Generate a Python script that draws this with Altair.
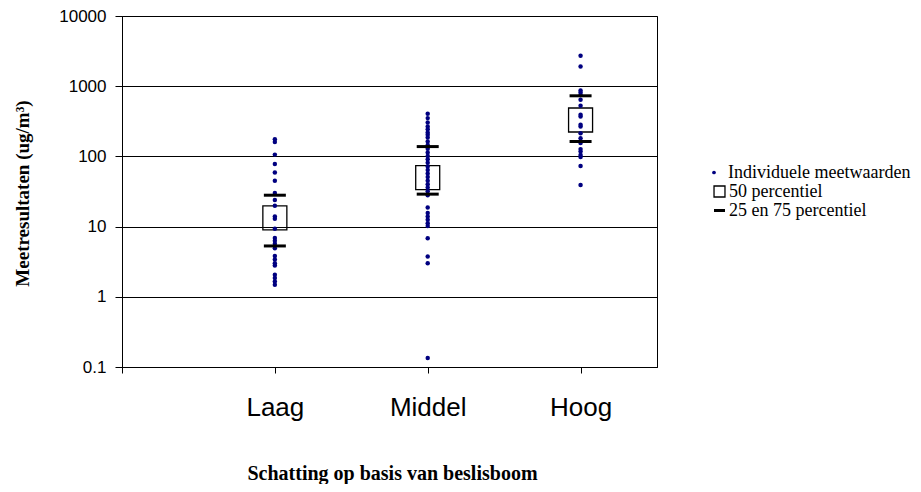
import altair as alt
import pandas as pd

# ---- data ----
categories = ["Laag", "Middel", "Hoog"]
cat_pos = [1, 2, 3]

laag_values = [175, 160, 106, 78, 59, 45, 30, 24, 19.8, 13.9, 12.9, 9.3, 6.9, 6.3,
               5.7, 4.9, 3.8, 3.4, 3.0, 2.8, 2.06, 1.85, 1.65, 1.48]
middel_values = [404, 351, 304, 267, 243, 219, 203, 186, 163, 145, 128, 114, 101, 91,
                 81, 72, 64, 57, 51, 45, 40, 36, 32, 28, 18.7, 15.6, 13.9, 12.5,
                 11.2, 10.2, 6.8, 3.75, 3.0, 0.134]
hoog_values = [2710, 1910, 868, 812, 750, 640, 526, 391, 370, 282, 267, 214, 182,
               155, 127, 117, 105, 98, 73, 39]

p50 = [13.3, 50, 330]
p25 = [5.3, 29, 163]
p75 = [28, 138, 730]

legend_labels = ["Individuele meetwaarden", "50 percentiel", "25 en 75 percentiel"]
y_ticks = [0.1, 1, 10, 100, 1000, 10000]

SERIF = "Liberation Serif"
SANS = "Liberation Sans"

# ---- tables ----
rows = []
for pos, vals in zip(cat_pos, [laag_values, middel_values, hoog_values]):
    for v in vals:
        rows.append({"x": pos, "y": v, "dots": legend_labels[0]})
points_df = pd.DataFrame(rows)

box_df = pd.DataFrame({"x": cat_pos, "y": p50, "stats": legend_labels[1]})
tick_df = pd.DataFrame({"x": cat_pos + cat_pos, "y": p25 + p75,
                        "stats": legend_labels[2]})

# category names as axis labels (non-breaking spaces nudge them like the reference)
label_expr = ("datum.value == 1 ? 'Laag\u00a0\u00a0' : datum.value == 2 ? 'Middel' : "
              "datum.value == 3 ? '\u00a0\u00a0Hoog' : ''")

x_enc = alt.X(
    "x:Q",
    scale=alt.Scale(domain=[0, 3.5], nice=False, zero=False),
    axis=alt.Axis(
        values=[0, 1, 2, 3], labelExpr=label_expr, grid=False,
        tickSize=6, tickColor="black", domainColor="black",
        labelFont=SANS, labelFontSize=26, labelColor="black",
        labelPadding=21, labelFlush=False,
        title="Schatting op basis van beslisboom",
        titleFont=SERIF, titleFontSize=20, titleFontWeight="bold",
        titleColor="black", titleX=270, titleY=112, titleBaseline="alphabetic",
        titleAnchor="middle",
    ),
)
y_enc = alt.Y(
    "y:Q",
    scale=alt.Scale(type="log", domain=[0.1, 10000], nice=False),
    axis=alt.Axis(
        values=y_ticks, format="~g", grid=True, gridColor="black", gridOpacity=1,
        gridWidth=1, tickSize=7, tickColor="black", domainColor="black",
        labelFont=SANS, labelFontSize=17, labelColor="black",
        labelPadding=9,
        title="Meetresultaten (ug/m³)",
        titleFont=SERIF, titleFontSize=19, titleFontWeight="bold",
        titleColor="black", titleX=-100, titleY=177, titleAngle=270,
        titleBaseline="middle", titleAlign="center",
    ),
)

legend_dots = alt.Legend(
    title=None, orient="none", legendX=583, legendY=147.5,
    labelFont=SERIF, labelFontSize=18, labelColor="black", labelLimit=400,
    labelOffset=5, symbolSize=14, symbolType="circle", symbolOpacity=1,
    symbolFillColor="#000080", symbolStrokeColor="#000080", symbolStrokeWidth=0,
)
legend_stats = alt.Legend(
    title=None, orient="none", legendX=588.5, legendY=166.5,
    labelFont=SERIF, labelFontSize=18, labelColor="black", labelLimit=400,
    labelOffset=0.5, rowPadding=1, symbolSize=120, symbolOpacity=1,
    symbolFillColor="transparent", symbolStrokeColor="black",
)

color_enc = alt.Color("dots:N", scale=alt.Scale(domain=[legend_labels[0]], range=["#000080"]),
                      legend=legend_dots)
shape_enc = alt.Shape("stats:N",
                      scale=alt.Scale(domain=legend_labels[1:], range=["square", "stroke"]),
                      legend=legend_stats)
sw_enc = alt.StrokeWidth("stats:N",
                         scale=alt.Scale(domain=legend_labels[1:], range=[1.3, 3]),
                         legend=legend_stats)

box = alt.Chart(box_df).mark_point(filled=False, size=576, color="black",
                                   opacity=1).encode(
    x=x_enc, y=y_enc, shape=shape_enc, strokeWidth=sw_enc)

points = alt.Chart(points_df).mark_point(filled=True, size=20, opacity=1,
                                         shape="circle").encode(
    x=x_enc, y=y_enc, color=color_enc)

ticks = alt.Chart(tick_df).mark_point(filled=False, size=484, color="black",
                                      opacity=1).encode(
    x=x_enc, y=y_enc, shape=shape_enc, strokeWidth=sw_enc)

chart = alt.layer(box, points, ticks).properties(
    width=535, height=351,
    autosize=alt.AutoSizeParams(type="none"),
    padding={"left": 114, "top": 8, "right": 255, "bottom": 117},
    background="white",
).configure_view(stroke="black", strokeWidth=1).configure_legend(
    labelFont=SERIF, labelFontSize=18, labelColor="black", labelLimit=400,
)

chart.save("out.html", embed_options={"renderer": "svg", "actions": False})
